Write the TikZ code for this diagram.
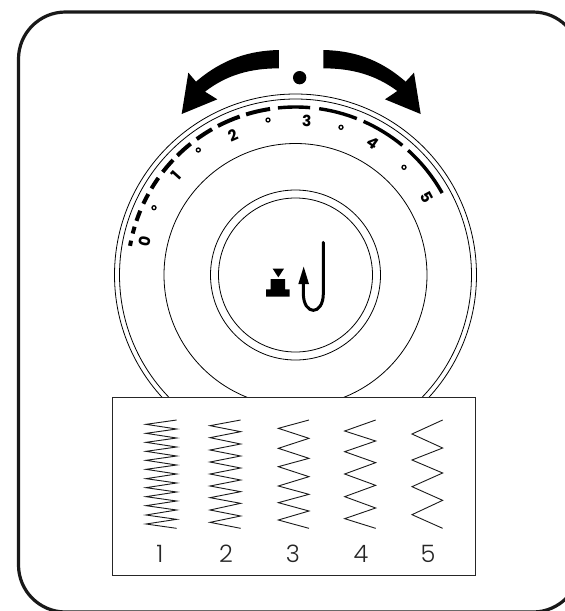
\documentclass[tikz,border=0pt]{standalone}
\usepackage{fontspec}
\usetikzlibrary{calc}
\setmainfont{Poppins}
\newfontfamily\lightfont{Poppins Light}
\tikzset{
  thinc/.style={draw=black,line width=0.8pt},
  tick/.style={draw=black,line width=3.4pt},
  tickb/.style={draw=black,line width=4pt},
  ring/.style={draw=black,fill=white,line width=1.3pt},
  diallab/.style={font=\bfseries\fontsize{15.5}{17}\selectfont,inner sep=0pt},
  stitchlab/.style={font=\lightfont\fontsize{24}{26}\selectfont,inner sep=0pt,text=black!85},
  zig/.style={draw=black!90,line width=0.9pt,line join=miter}
}
\newcommand{\zigcol}[2]{\begin{scope}[shift={(110,380)},x=0.33333pt,y=-0.33333pt]\draw[zig] #2;\end{scope}}
\begin{document}
\begin{tikzpicture}[x=1pt,y=-1pt]
\useasboundingbox (0,0) rectangle (565,611);
\draw[line width=3.2pt,draw=black!90,rounded corners=47pt] (18.5,12) rectangle (580,612);
% dial circles
\coordinate (c) at (295.5,275);
\draw[thinc] (c) circle[radius=181];
\draw[thinc] (c) circle[radius=176];
\draw[thinc] (c) circle[radius=131.5];
\draw[thinc] (c) circle[radius=85];
\draw[thinc] (c) circle[radius=77];
% ticks
\foreach \a/\b in {85/96,68.6/81.9,50.5/66.1,29.2/47.9}
  \draw[tick] ($(c)+({168*cos(\a)},{-168*sin(\a)})$) arc[start angle=-\a,end angle=-\b,radius=168];
\foreach \a/\b in {98.7/107.1,109.4/117.5,119.8/126,128.6/134.7,136.8/142.2,144.7/149,151.2/154.9,157.5/161.2,163.3/165.7,168.2/170}
  \draw[tickb] ($(c)+({168*cos(\a)},{-168*sin(\a)})$) arc[start angle=-\a,end angle=-\b,radius=168];
\foreach \p in {(154,207.7),(198.3,150),(268,120),(341,127.3),(404,167.3)}
  \draw[ring] \p circle[radius=2];
\node[diallab,rotate=78] (l0) at (145,241.7) {0};
\node[diallab,rotate=48] (l1) at (176.7,175.7) {1};
\node[diallab,rotate=24] (l2) at (232.7,135.7) {2};
\node[diallab,rotate=-2] (l3) at (306.7,121) {3};
\node[diallab,rotate=-35] (l4) at (373.3,143.3) {4};
\node[diallab,rotate=-62] (l5) at (426.7,197.3) {5};
% arrows and dot
\begin{scope}[shift={(110,30)},x=0.33333pt,y=-0.33333pt]
\fill (569,143) circle[radius=20];
\fill (507,60) .. controls (420,62) and (340,85) .. (258,155) -- (235,128) -- (215,252) -- (322,208) -- (285,185) .. controls (350,135) and (420,115) .. (507,115) -- cycle;
\fill (640,60) .. controls (727,62) and (807,85) .. (887,155) -- (912,128) -- (932,252) -- (825,208) -- (862,183) .. controls (797,135) and (727,115) .. (640,115) -- cycle;
\end{scope}
% icon
\begin{scope}[shift={(240,230)},x=0.33333pt,y=-0.33333pt]
\fill (98,116) -- (132,116) -- (115,142) -- cycle;
\fill (92,147) -- (135,147) -- (135,178) -- (149,178) -- (149,200) -- (78,200) -- (78,178) -- (92,178) -- cycle;
\draw[line width=3pt,line cap=round] (250,37) -- (250,190) .. controls (250,258) and (190,258) .. (190,190) -- (190,150);
\fill (175,162) -- (207,162) -- (191,110) -- cycle;
\end{scope}
% stitch box
\node[draw=black!85,fill=white,line width=1.4pt,minimum width=363pt,minimum height=178pt,inner sep=0pt,anchor=north west] (box) at (112,397) {};
\zigcol{1}{(200,120) -- (108,133) -- (200,147) -- (108,160) -- (200,174) -- (108,187) -- (200,201) -- (108,214) -- (200,228) -- (108,241) -- (200,255) -- (108,268) -- (200,282) -- (108,296) -- (200,309) -- (108,323) -- (200,336) -- (108,350) -- (200,363) -- (108,377) -- (200,390) -- (108,405) -- (200,418) -- (108,432) -- (200,445)}
\zigcol{2}{(392,120) -- (300,137) -- (392,155) -- (300,173) -- (392,192) -- (300,210) -- (392,228) -- (300,246) -- (392,264) -- (300,282) -- (392,300) -- (300,318) -- (392,335) -- (300,353) -- (392,370) -- (300,390) -- (392,408) -- (300,427) -- (392,445)}
\zigcol{3}{(597,120) -- (505,145) -- (597,175) -- (505,205) -- (597,235) -- (505,260) -- (597,290) -- (505,318) -- (597,343) -- (505,368) -- (597,393) -- (505,420) -- (597,445)}
\zigcol{4}{(797,120) -- (704,153) -- (797,183) -- (704,215) -- (797,248) -- (704,282) -- (797,316) -- (704,350) -- (797,384) -- (704,416) -- (797,445)}
\zigcol{5}{(998,120) -- (906,162) -- (998,204) -- (906,240) -- (998,279) -- (906,320) -- (998,361) -- (906,404) -- (998,445)}
\node[stitchlab] (s1) at (160,554) {1};
\node[stitchlab] (s2) at (226,554) {2};
\node[stitchlab] (s3) at (293,554) {3};
\node[stitchlab] (s4) at (361,554) {4};
\node[stitchlab] (s5) at (428,554) {5};
\end{tikzpicture}
\end{document}
